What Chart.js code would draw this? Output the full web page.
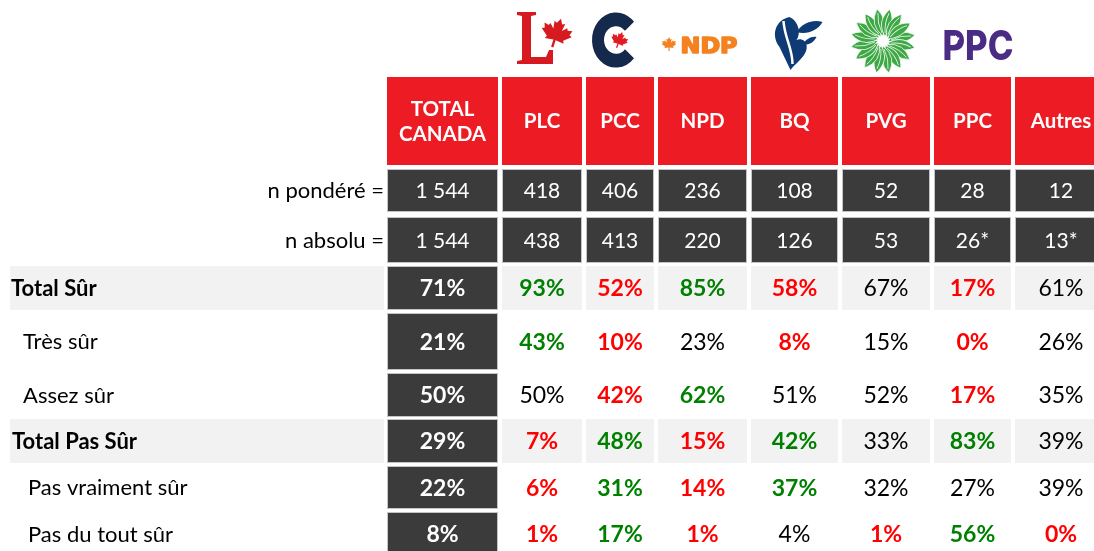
<!DOCTYPE html>
<html><head><meta charset="utf-8">
<script src="https://cdn.jsdelivr.net/npm/chart.js@4/dist/chart.umd.min.js"></script>
<style>html,body{margin:0;padding:0;background:#fff;overflow:hidden}canvas{display:block}</style>
</head><body>
<canvas id="c" width="1094" height="551"></canvas>
<script>
// ---------------- DATA ----------------
const parties = ['TOTAL CANADA', 'PLC', 'PCC', 'NPD', 'BQ', 'PVG', 'PPC', 'Autres'];
const rowLabels = ['n pondéré =', 'n absolu =', 'Total Sûr', 'Très sûr', 'Assez sûr', 'Total Pas Sûr', 'Pas vraiment sûr', 'Pas du tout sûr'];
const nPondere = [1544, 418, 406, 236, 108, 52, 28, 12];
const nAbsolu = [1544, 438, 413, 220, 126, 53, 26, 13];
const lowBase = [false, false, false, false, false, false, true, true]; // marked with *
const totalSur = [71, 93, 52, 85, 58, 67, 17, 61];
const tresSur = [21, 43, 10, 23, 8, 15, 0, 26];
const assezSur = [50, 50, 42, 62, 51, 52, 17, 35];
const totalPasSur = [29, 7, 48, 15, 42, 33, 83, 39];
const pasVraimentSur = [22, 6, 31, 14, 37, 32, 27, 39];
const pasDuToutSur = [8, 1, 17, 1, 4, 1, 56, 0];
// significance vs. total: '+' significantly higher, '-' significantly lower, '' none
const sigTotalSur = ['', '+', '-', '+', '-', '', '-', ''];
const sigTresSur = ['', '+', '-', '', '-', '', '-', ''];
const sigAssezSur = ['', '', '-', '+', '', '', '-', ''];
const sigTotalPasSur = ['', '-', '+', '-', '+', '', '+', ''];
const sigPasVraimentSur = ['', '-', '+', '-', '+', '', '', ''];
const sigPasDuToutSur = ['', '-', '+', '-', '', '-', '+', '-'];

// ---------------- LAYOUT / STYLE ----------------
const LAYOUT = {
  width: 1094, height: 551,
  labelLeft: 10, labelRight: 384,
  tableLeft: 387,
  colWidths: [111, 80, 68, 89, 87, 88, 77, 92],
  colGap: 4,
  tableTop: 77,
  rowHeights: [88, 43, 46, 44, 57, 44, 44, 43, 44],
  rowGaps: [4, 5, 3, 3, 3, 2, 3, 3],
  labelStyle: [
    null,
    { align: 'right', bold: false, indent: 0 },
    { align: 'right', bold: false, indent: 0 },
    { align: 'left', bold: true, indent: 1, shade: true },
    { align: 'left', bold: false, indent: 13 },
    { align: 'left', bold: false, indent: 13 },
    { align: 'left', bold: true, indent: 2, shade: true },
    { align: 'left', bold: false, indent: 18 },
    { align: 'left', bold: false, indent: 18 }
  ]
};
const COLORS = {
  header: '#ED1C24', dark: '#3B3B3B', shade: '#F2F2F2', cellBorder: '#C4C4C4',
  up: '#008000', down: '#FF0000', text: '#000000', white: '#FFFFFF'
};
const FONT = 'Lato, "Open Sans", "DejaVu Sans", sans-serif';
const SIZES = { header: 20.5, count: 21, pct: 23, label: 22 };

// ---------------- BUILD ----------------
const colSpans = [];
{ let s = LAYOUT.tableLeft; LAYOUT.colWidths.forEach(w => { colSpans.push([s, s + w]); s += w + LAYOUT.colGap; }); }
const rowSpans = [];
{ let t = LAYOUT.tableTop; LAYOUT.rowHeights.forEach((h, i) => { rowSpans.push([t, t + h]); t += h + (LAYOUT.rowGaps[i] || 0); }); }

const fmtN = v => String(v).replace(/\B(?=(\d{3})+(?!\d))/g, ' ');
const pctRows = [
  [totalSur, sigTotalSur], [tresSur, sigTresSur], [assezSur, sigAssezSur],
  [totalPasSur, sigTotalPasSur], [pasVraimentSur, sigPasVraimentSur], [pasDuToutSur, sigPasDuToutSur]
];

const datasets = rowSpans.map((span, r) => {
  const center = (span[0] + span[1]) / 2;
  const style = LAYOUT.labelStyle[r];
  const data = [{ x: [LAYOUT.labelLeft, LAYOUT.labelRight], y: center }]
    .concat(colSpans.map(c => ({ x: [c[0], c[1]], y: center })));
  const bg = [style && style.shade ? COLORS.shade : 'rgba(0,0,0,0)'];
  const bw = [0];
  const cells = [style ? { text: rowLabels[r - 1], color: COLORS.text, bold: style.bold, size: SIZES.label, align: style.align, indent: style.indent } : null];
  parties.forEach((p, c) => {
    if (r === 0) {
      bg.push(COLORS.header); bw.push(0);
      cells.push({ text: p, color: COLORS.white, bold: true, size: SIZES.header, align: 'center', wrap: true });
    } else if (r <= 2) {
      const vals = r === 1 ? nPondere : nAbsolu;
      const t = fmtN(vals[c]) + (r === 2 && lowBase[c] ? '*' : '');
      bg.push(COLORS.dark); bw.push(1);
      cells.push({ text: t, color: COLORS.white, bold: false, size: SIZES.count, align: 'center' });
    } else {
      const [vals, sig] = pctRows[r - 3];
      const t = vals[c] + '%';
      if (c === 0) {
        bg.push(COLORS.dark); bw.push(1);
        cells.push({ text: t, color: COLORS.white, bold: true, size: SIZES.pct, align: 'center' });
      } else {
        bg.push(style.shade ? COLORS.shade : 'rgba(0,0,0,0)'); bw.push(0);
        const s = sig[c];
        cells.push({ text: t, color: s === '+' ? COLORS.up : s === '-' ? COLORS.down : COLORS.text, bold: s !== '', size: SIZES.pct, align: 'center' });
      }
    }
  });
  return {
    label: r === 0 ? 'header' : rowLabels[r - 1],
    data, backgroundColor: bg, borderWidth: bw, borderColor: COLORS.cellBorder,
    borderSkipped: false, barThickness: span[1] - span[0], grouped: false, inflateAmount: 0,
    cells
  };
});

// ---------------- LOGO DRAWING ----------------
const LEAF = [[0,-1],[0.16,-0.70],[0.33,-0.78],[0.26,-0.32],[0.52,-0.58],[0.58,-0.44],[0.86,-0.50],[0.76,-0.22],[0.92,-0.14],[0.50,0.20],[0.58,0.36],[0.07,0.30],[0.07,0.75],[-0.07,0.75],[-0.07,0.30],[-0.58,0.36],[-0.50,0.20],[-0.92,-0.14],[-0.76,-0.22],[-0.86,-0.50],[-0.58,-0.44],[-0.52,-0.58],[-0.26,-0.32],[-0.33,-0.78],[-0.16,-0.70]];
function leaf(ctx, x, y, s, color, rot) {
  ctx.save(); ctx.translate(x, y); ctx.rotate(rot || 0); ctx.beginPath();
  LEAF.forEach((p, i) => i ? ctx.lineTo(p[0] * s, p[1] * s) : ctx.moveTo(p[0] * s, p[1] * s));
  ctx.closePath(); ctx.fillStyle = color; ctx.fill(); ctx.restore();
}
const logos = {
  PLC(ctx, cx, top) { // liberal
    ctx.save(); ctx.translate(cx - 542, top - 77);
    ctx.fillStyle = '#D71920'; ctx.beginPath();
    [[517,12],[536,12],[536,15],[531,16],[531,57],[546,57],[549,50],[553,50],[553,64],[517,64],[517,61],[522,60],[522,16],[517,15]]
      .forEach((p, i) => i ? ctx.lineTo(p[0], p[1]) : ctx.moveTo(p[0], p[1]));
    ctx.closePath(); ctx.fill();
    leaf(ctx, 556, 35, 17, '#D71920', 0.3);
    ctx.restore();
  },
  PCC(ctx, cx, top) {
    ctx.save(); ctx.translate(cx - 620, top - 77);
    ctx.save(); ctx.translate(616, 40); ctx.scale(1, 1.15);
    ctx.beginPath(); ctx.arc(0, 0, 18, 0.23 * Math.PI, 1.77 * Math.PI);
    ctx.lineWidth = 12; ctx.strokeStyle = '#14294B'; ctx.stroke(); ctx.restore();
    leaf(ctx, 619, 41, 9.5, '#E31B23', 0.35);
    ctx.restore();
  },
  NPD(ctx, cx, top) {
    ctx.save(); ctx.translate(cx - 702, top - 77);
    leaf(ctx, 668.5, 45, 8, '#F58220', 0);
    ctx.fillStyle = '#F58220'; ctx.strokeStyle = '#F58220'; ctx.lineWidth = 1.6; ctx.lineJoin = 'round';
    ctx.font = 'bold 22px "DejaVu Sans", sans-serif';
    ctx.textBaseline = 'alphabetic'; ctx.textAlign = 'left';
    const w = ctx.measureText('NDP').width;
    ctx.save(); ctx.translate(680, 53); ctx.scale(57 / w, 1);
    ctx.fillText('NDP', 0, 0); ctx.strokeText('NDP', 0, 0); ctx.restore();
    ctx.restore();
  },
  BQ(ctx, cx, top) {
    ctx.save(); ctx.translate(cx - 794, top - 77);
    ctx.fillStyle = '#0E3B76';
    ctx.beginPath(); ctx.moveTo(789, 17);
    ctx.bezierCurveTo(775, 20, 770, 35, 779, 47);
    ctx.lineTo(790, 70);
    ctx.bezierCurveTo(796, 62, 808, 55, 806, 45);
    ctx.bezierCurveTo(805, 40, 800, 38, 796, 40);
    ctx.bezierCurveTo(801, 33, 798, 21, 789, 17);
    ctx.closePath(); ctx.fill();
    ctx.beginPath(); ctx.moveTo(796, 32);
    ctx.bezierCurveTo(802, 22, 814, 19, 822, 22);
    ctx.bezierCurveTo(817, 31, 806, 35, 796, 32); ctx.closePath(); ctx.fill();
    ctx.beginPath(); ctx.moveTo(802, 45);
    ctx.bezierCurveTo(805, 39, 811, 36, 816, 37);
    ctx.bezierCurveTo(813, 43, 808, 45, 802, 45); ctx.closePath(); ctx.fill();
    ctx.strokeStyle = '#FFFFFF'; ctx.lineWidth = 2.5; ctx.beginPath();
    ctx.moveTo(783, 21); ctx.bezierCurveTo(784, 38, 792, 48, 792, 64); ctx.stroke();
    ctx.restore();
  },
  PVG(ctx, cx, top) {
    ctx.save(); ctx.translate(cx - 886, top - 77); ctx.translate(883, 41);
    const n = 16;
    for (let i = 0; i < n; i++) {
      ctx.save(); ctx.rotate(i * 2 * Math.PI / n);
      ctx.beginPath(); ctx.moveTo(5, 0);
      ctx.quadraticCurveTo(16, -14, 32, -6);
      ctx.quadraticCurveTo(22, 5, 5, 0);
      ctx.closePath(); ctx.fillStyle = '#3DA844'; ctx.fill();
      ctx.strokeStyle = 'rgba(255,255,255,0.85)'; ctx.lineWidth = 0.9; ctx.stroke();
      ctx.beginPath(); ctx.moveTo(8, -1); ctx.quadraticCurveTo(18, -6, 28, -5); ctx.stroke();
      ctx.restore();
    }
    ctx.beginPath(); ctx.arc(0, 0, 5, 0, 2 * Math.PI); ctx.fillStyle = '#fff'; ctx.fill();
    ctx.restore();
  },
  PPC(ctx, cx, top) {
    ctx.save(); ctx.translate(cx - 972, top - 77);
    ctx.fillStyle = '#4B2C85'; ctx.font = '800 41px Inter, "DejaVu Sans", sans-serif';
    ctx.textAlign = 'left'; ctx.textBaseline = 'alphabetic';
    const w = ctx.measureText('PPC').width;
    ctx.save(); ctx.translate(942, 60); ctx.scale(71 / w, 1); ctx.fillText('PPC', 0, 0); ctx.restore();
    leaf(ctx, 955, 39.5, 4.5, '#FFFFFF', 0);
    ctx.restore();
  }
};

// ---------------- PLUGINS ----------------
const tablePlugin = {
  id: 'tableText',
  afterDatasetsDraw(chart) {
    const ctx = chart.ctx;
    ctx.save();
    chart.data.datasets.forEach((ds, r) => {
      const meta = chart.getDatasetMeta(r);
      meta.data.forEach((el, i) => {
        const cell = ds.cells[i];
        if (!cell) return;
        const p = el.getProps(['x', 'y', 'base', 'height'], true);
        const left = Math.min(p.x, p.base), right = Math.max(p.x, p.base);
        ctx.font = (cell.bold ? 'bold ' : '') + cell.size + 'px ' + FONT;
        ctx.fillStyle = cell.color;
        ctx.textBaseline = 'alphabetic';
        const cap = cell.size * 0.716;
        let lines = [cell.text];
        if (cell.wrap && cell.text.indexOf(' ') > 0) lines = cell.text.split(' ');
        const lh = cell.size * 1.25;
        lines.forEach((ln, k) => {
          const yy = p.y + cap / 2 + (k - (lines.length - 1) / 2) * lh;
          if (cell.align === 'center') { ctx.textAlign = 'center'; ctx.fillText(ln, (left + right) / 2, yy); }
          else if (cell.align === 'right') { ctx.textAlign = 'right'; ctx.fillText(ln, right, yy); }
          else { ctx.textAlign = 'left'; ctx.fillText(ln, left + cell.indent, yy); }
        });
      });
    });
    // party logos above header cells
    const hdr = chart.getDatasetMeta(0);
    parties.forEach((name, c) => {
      const fn = logos[name];
      if (!fn) return;
      const p = hdr.data[c + 1].getProps(['x', 'y', 'base', 'height'], true);
      fn(ctx, (p.x + p.base) / 2, p.y - p.height / 2);
    });
    ctx.restore();
  }
};

new Chart(document.getElementById('c'), {
  type: 'bar',
  data: { datasets },
  options: {
    indexAxis: 'y', responsive: false, animation: false, events: [],
    layout: { padding: 0 },
    plugins: { legend: { display: false }, tooltip: { enabled: false } },
    scales: {
      x: { type: 'linear', min: 0, max: LAYOUT.width, offset: false, display: false },
      y: { type: 'linear', min: 0, max: LAYOUT.height, reverse: true, offset: false, display: false }
    }
  },
  plugins: [tablePlugin]
});
</script>
</body></html>
